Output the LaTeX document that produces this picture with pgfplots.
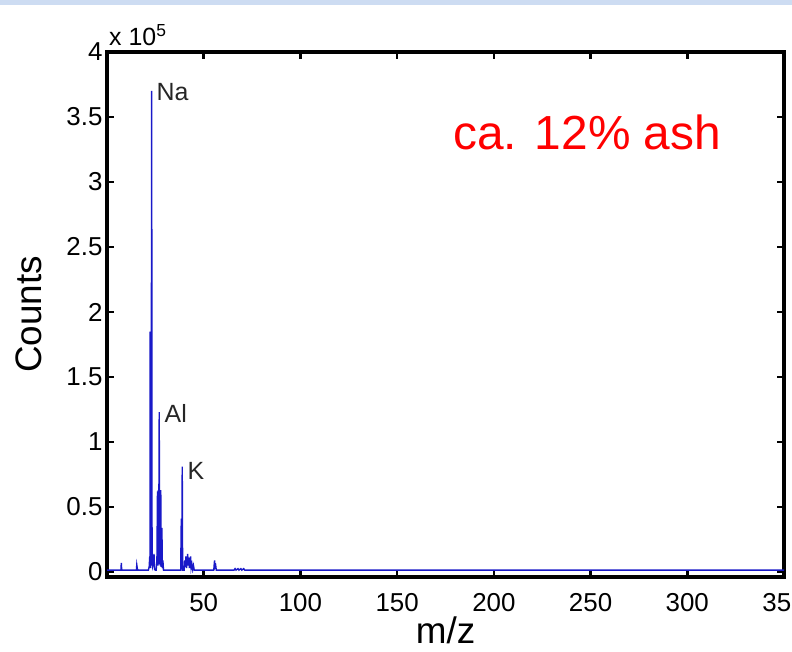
\documentclass[border=0pt]{standalone}
\usepackage{fontspec}
\setmainfont{Liberation Sans}
\usepackage{pgfplots}
\pgfplotsset{compat=1.18}
\definecolor{specblue}{RGB}{25,25,200}
\definecolor{slideband}{RGB}{205,220,242}
\begin{document}
\begin{tikzpicture}[x=1bp,y=1bp]
\useasboundingbox (0,0) rectangle (792,652);
\fill[slideband] (0,647) rectangle (792,652);
\begin{axis}[
  at={(107bp,75bp)}, anchor=south west,
  scale only axis, width=677bp, height=525bp,
  xmin=0, xmax=350, ymin=-3800, ymax=400000,
  axis line style={line width=3.5bp},
  tick align=inside, xtick pos=both, ytick pos=both,
  major tick length=7bp,
  every tick/.style={black, line width=2.5bp},
  xtick={50,100,150,200,250,300,350},
  ytick={0,50000,100000,150000,200000,250000,300000,350000,400000},
  yticklabels={0,0.5,1,1.5,2,2.5,3,3.5,4},
  scaled y ticks=false, scaled x ticks=false,
  /pgf/number format/assume math mode=true,
  ticklabel style={font=\fontsize{26}{28}\selectfont},
  xticklabel style={yshift=-13bp},
  yticklabel style={xshift=-1bp},
  xlabel={m/z}, ylabel={Counts},
  label style={font=\fontsize{37}{40}\selectfont},
  xlabel style={yshift=2bp},
  ylabel style={yshift=18bp},
  clip=false,
]
\addplot[specblue, line width=1.4bp] coordinates {
(0,1500) (7.2,1500) (7.4,7000) (7.6,1500)
(15.2,1500) (15.4,5500) (15.7,2500) (16.0,1500)
(21.4,1500) (21.8,4000) (22.1,12000) (22.2,3000)
(22.3,185000) (22.45,3000) (22.6,184000) (22.8,5000)
(23.1,370000) (23.3,15000) (23.6,4000) (24.0,6000) (24.3,14000) (24.6,2000) (25.0,1500)
(25.4,1500) (25.8,8000) (26.1,62000) (26.3,5000) (26.5,63000) (26.7,8000)
(27.0,123000) (27.2,6000) (27.4,62000) (27.6,5000) (27.8,63000) (28.0,4000)
(28.4,34000) (28.6,3000) (28.9,9000) (29.2,1500)
(38.1,1500) (38.4,41000) (38.6,2000) (38.9,81000) (39.1,1500)
(39.9,1500) (40.2,9000) (40.5,4000) (40.8,12000) (41.1,3000) (41.4,8000)
(41.7,14000) (42.0,5000) (42.3,11000) (42.6,3000) (42.9,8000) (43.2,12000)
(43.5,3000) (43.9,6000) (44.3,2000) (44.7,5000) (45.1,1500)
(55.2,1500) (55.6,9000) (55.9,4000) (56.2,5000) (56.5,1500)
(65.7,1500) (66.2,2600) (66.7,1500) (67.7,2600) (68.2,1500) (69.2,2600) (69.7,1500)
(70.7,2600) (71.2,1500) (350,1500)
};
\node[anchor=west, text=black!85, font=\fontsize{25}{28}\selectfont, inner sep=0pt] at (axis cs:25.6,369000) {Na};
\node[anchor=west, text=black!85, font=\fontsize{25}{28}\selectfont, inner sep=0pt] at (axis cs:29.7,122000) {Al};
\node[anchor=west, text=black!85, font=\fontsize{25}{28}\selectfont, inner sep=0pt] at (axis cs:41.6,78000) {K};
\node[anchor=west, text=red, font=\fontsize{48}{52}\selectfont, inner sep=0pt] at (axis cs:179,338000) {ca. 12\% ash};
\node[anchor=south west, font=\fontsize{25}{28}\selectfont, inner sep=0pt] at (rel axis cs:0,1) [xshift=2bp, yshift=6bp] {x 10\textsuperscript{5}};
\end{axis}
\end{tikzpicture}
\end{document}
